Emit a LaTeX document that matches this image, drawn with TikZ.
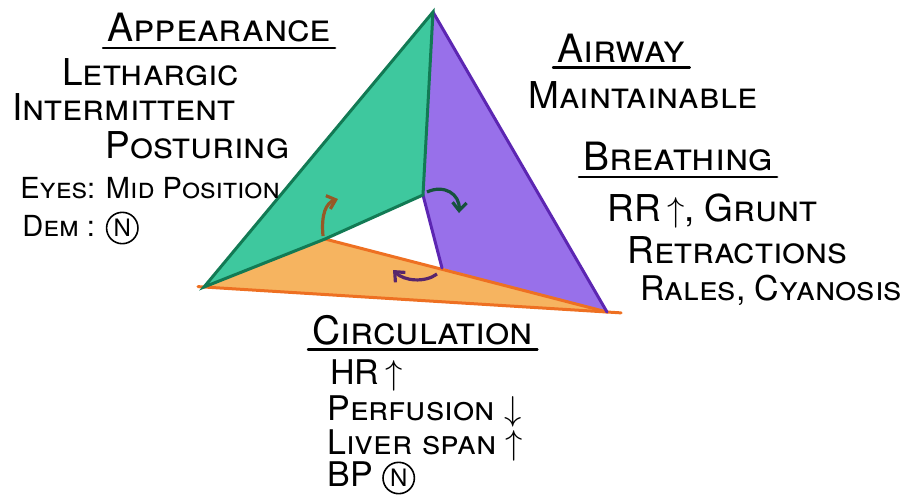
\documentclass[tikz,border=0pt]{standalone}
\usepackage{fontspec}
\setmainfont{TeX Gyre Heros}
\usetikzlibrary{arrows.meta,calc}
\definecolor{tealfill}{RGB}{62,200,158}
\definecolor{tealedge}{RGB}{18,122,84}
\definecolor{violetfill}{RGB}{152,112,234}
\definecolor{violetedge}{RGB}{92,38,178}
\definecolor{orangefill}{RGB}{246,180,96}
\definecolor{orangeedge}{RGB}{238,112,34}
\definecolor{brownarrow}{RGB}{150,88,38}
\definecolor{greenarrow}{RGB}{22,82,60}
\definecolor{violetarrow}{RGB}{88,38,108}
\newcommand{\cercleN}{\tikz[baseline=(n.base)]\node[circle,draw,thick,inner sep=1.2pt,font=\normalfont\fontsize{12}{12}\selectfont] (n) {N};}
\begin{document}
\begin{tikzpicture}[x=0.5pt,y=-0.5pt]
	% Styles
	\tikzstyle{face}=[line join=round]
	\tikzstyle{arete}=[line width=1.5pt,line cap=round]
	\tikzstyle{fleche}=[line width=1.6pt,-{Straight Barb[length=4pt,width=7pt]}]
	\tikzstyle{titre}=[anchor=west,inner sep=0pt,font=\fontsize{19.5}{19.5}\selectfont\scshape]
	\tikzstyle{texte}=[anchor=west,inner sep=0pt,font=\fontsize{18.5}{18.5}\selectfont\scshape]
	\tikzstyle{moyen}=[anchor=west,inner sep=0pt,font=\fontsize{17}{17}\selectfont\scshape]
	\tikzstyle{petit}=[anchor=west,inner sep=0pt,font=\fontsize{14.5}{14.5}\selectfont\scshape]
	\tikzstyle{souligne}=[line width=1.2pt,line cap=round]
	\useasboundingbox (0,0) rectangle (916,495);
	% Sommets
	\coordinate (T) at (433,12);
	\coordinate (L) at (204,287);
	\coordinate (R) at (607,312);
	\coordinate (A) at (423,195);
	\coordinate (B) at (325,239);
	\coordinate (C) at (442,268);
	% Faces
	\fill[face,tealfill] (T)--(L)--(B)--(A)--cycle;
	\fill[face,violetfill] (T)--(A)--(C)--(R)--cycle;
	\fill[face,orangefill] (L)--(B)--(R)--cycle;
	% Aretes
	\draw[arete,orangeedge] ($(L)!-0.015!(R)$)--($(R)!-0.035!(L)$);
	\draw[arete,orangeedge] (B)--(R);
	\draw[arete,violetedge] (T)--(R);
	\draw[arete,violetedge] (A)--(C);
	\draw[arete,tealedge] (T)--(L)--(B)--(A)--cycle;
	% Fleches
	\coordinate (b1) at (323,236); \coordinate (b2) at (338,199);
	\coordinate (g1) at (427,192); \coordinate (g2) at (459,213);
	\coordinate (v1) at (437,274); \coordinate (v2) at (393,270);
	\draw[fleche,brownarrow] (b1) .. controls (321,214) and (326,203) .. (b2);
	\draw[fleche,greenarrow] (g1) .. controls (444,184) and (460,194) .. (g2);
	\draw[fleche,violetarrow] (v1) .. controls (425,283) and (404,281) .. (v2);
	% Appearance
	\node[titre] (app) at (107,28) {Appearance};
	\draw[souligne] ([xshift=-2pt,yshift=-2.5pt]app.south west)--([xshift=2pt,yshift=-2.5pt]app.south east);
	\node[texte] (leth) at (62,72) {Lethargic};
	\node[texte] (inter) at (12,107) {Intermittent};
	\node[texte] (post) at (105,145) {Posturing};
	\node[petit] (yeux) at (20,188) {Eyes: Mid Position};
	\node[petit] (dem) at (22,228) {Dem : \cercleN};
	% Airway / Breathing
	\node[titre] (air) at (557,48) {Airway};
	\draw[souligne] ([xshift=-2pt,yshift=-2.5pt]air.south west)--([xshift=2pt,yshift=-2.5pt]air.south east);
	\node[texte] (maint) at (528,95) {Maintainable};
	\node[titre] (breath) at (583,157) {Breathing};
	\draw[souligne] ([xshift=-2pt,yshift=-2.5pt]breath.south west)--([xshift=2pt,yshift=-2.5pt]breath.south east);
	\node[texte] (rr) at (607,211) {RR\,$\uparrow$, Grunt};
	\node[texte] (retr) at (627,250) {Retractions};
	\node[moyen] (rales) at (640,290) {Rales, Cyanosis};
	% Circulation
	\node[titre] (circ) at (312,330) {Circulation};
	\draw[souligne] ([xshift=-2pt,yshift=-2pt]circ.south west)--([xshift=2pt,yshift=-2pt]circ.south east);
	\node[moyen] (hr) at (330,375) {HR\,$\uparrow$};
	\node[moyen] (perf) at (327,411) {Perfusion $\downarrow$};
	\node[moyen] (liver) at (327,445) {Liver span $\uparrow$};
	\node[moyen] (bp) at (327,478) {BP \cercleN};
\end{tikzpicture}
\end{document}
